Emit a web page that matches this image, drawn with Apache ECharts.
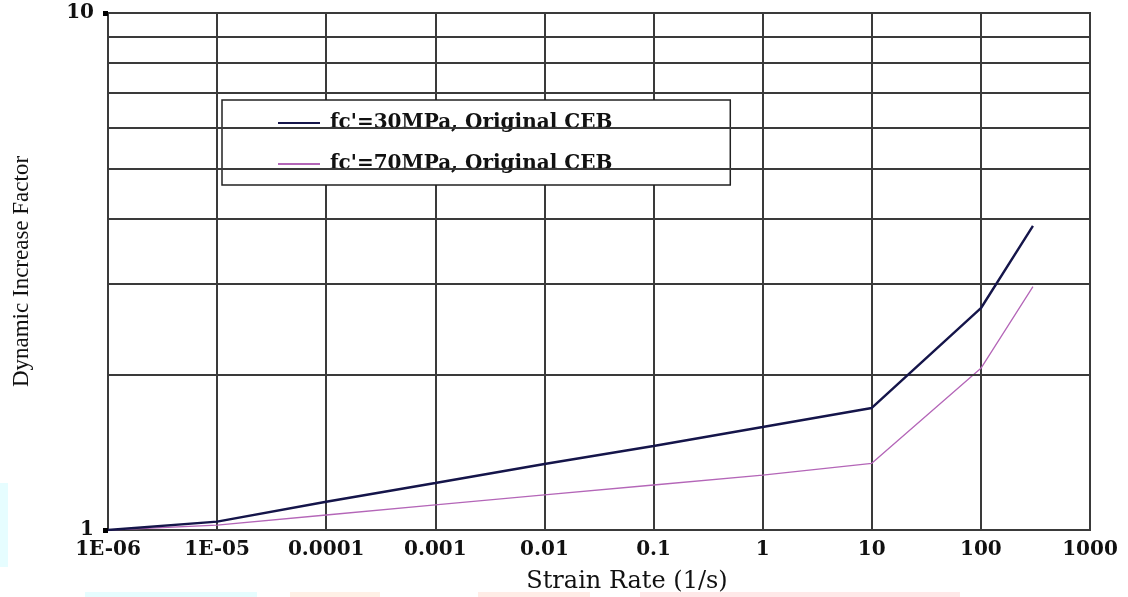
<!DOCTYPE html>
<html><head><meta charset="utf-8">
<script src="https://cdn.jsdelivr.net/npm/echarts@6/dist/echarts.min.js"></script>
<style>html,body{margin:0;padding:0;background:#fff}#c{width:1128px;height:597px}</style>
</head><body><div id="c"></div>
<script>
var strainRates = [1e-6, 1e-5, 1e-4, 1e-3, 1e-2, 1e-1, 1, 10, 100, 300];
var dif30 = [1.0, 1.038, 1.134, 1.233, 1.342, 1.454, 1.582, 1.722, 2.685, 3.873];
var dif70 = [1.0, 1.022, 1.069, 1.118, 1.169, 1.222, 1.277, 1.346, 2.055, 2.955];
var xTickLabels = ['1E-06','1E-05','0.0001','0.001','0.01','0.1','1','10','100','1000'];
var yGridValues = [2, 3, 4, 5, 6, 7, 8, 9];
var seriesNames = ["fc'=30MPa, Original CEB", "fc'=70MPa, Original CEB"];

function pairs(xs, ys){ return xs.map(function(x,i){ return [x, ys[i]]; }); }

var chart = echarts.init(document.getElementById('c'));
var gridColor = '#3a3a3a';
var c30 = '#15154a', c70 = '#b466b8';
chart.setOption({
  animation: false,
  backgroundColor: '#fff',
  grid: {left: 108, right: 38, top: 13, bottom: 67, show: true, borderColor: gridColor, borderWidth: 2},
  legend: {
    left: 222, top: 100, orient: 'vertical',
    borderColor: '#222', borderWidth: 1.5, backgroundColor: '#fff',
    padding: [13, 118, 11, 56], itemGap: 21, itemWidth: 42, itemHeight: 2, icon: 'rect',
    textStyle: {fontFamily: 'DejaVu Serif', fontWeight: 'bold', fontSize: 20, color: '#111', padding: [0, 0, 0, 5]},
    data: [
      {name: seriesNames[0], itemStyle: {color: c30}},
      {name: seriesNames[1], itemStyle: {color: c70}}
    ]
  },
  xAxis: {
    type: 'log', logBase: 10, min: 1e-6, max: 1000,
    axisLine: {show: false}, axisTick: {show: false},
    splitLine: {show: true, lineStyle: {color: gridColor, width: 2}},
    axisLabel: {
      margin: 10, fontFamily: 'DejaVu Serif', fontWeight: 'bold', fontSize: 20, color: '#111',
      formatter: function(v){ var i = Math.round(Math.log10(v)) + 6; return xTickLabels[i] || ''; }
    }
  },
  yAxis: {
    type: 'log', logBase: 10, min: 1, max: 10,
    name: 'Dynamic Increase Factor', nameLocation: 'middle', nameGap: 75,
    nameTextStyle: {fontFamily: 'Liberation Serif', fontSize: 23, color: '#111'},
    axisLine: {show: false},
    axisTick: {show: true, length: 5, lineStyle: {color: '#000', width: 5}},
    splitLine: {show: false},
    axisLabel: {margin: 14, fontFamily: 'DejaVu Serif', fontWeight: 'bold', fontSize: 20, color: '#111'}
  },
  graphic: [
    {type: 'text', x: 627, y: 582, style: {text: 'Strain Rate (1/s)', textAlign: 'center', textVerticalAlign: 'middle', font: '24px "DejaVu Serif"', fill: '#111'}},
    {type: 'rect', shape: {x: 0, y: 483, width: 8, height: 84}, style: {fill: '#e6fdff'}, z: -1},
    {type: 'rect', shape: {x: 85, y: 592, width: 172, height: 5}, style: {fill: '#e6fdff'}, z: -1},
    {type: 'rect', shape: {x: 290, y: 592, width: 90, height: 5}, style: {fill: '#fff0e6'}, z: -1},
    {type: 'rect', shape: {x: 478, y: 592, width: 112, height: 5}, style: {fill: '#ffece6'}, z: -1},
    {type: 'rect', shape: {x: 640, y: 592, width: 320, height: 5}, style: {fill: '#ffe8e8'}, z: -1}
  ],
  series: [
    {
      name: seriesNames[0], type: 'line', data: pairs(strainRates, dif30),
      symbol: 'none', lineStyle: {color: c30, width: 2.4}, itemStyle: {color: c30}, z: 5,
      markLine: {
        silent: true, symbol: 'none', label: {show: false},
        lineStyle: {color: gridColor, width: 2, type: 'solid'},
        data: yGridValues.map(function(v){ return {yAxis: v}; })
      }
    },
    {
      name: seriesNames[1], type: 'line', data: pairs(strainRates, dif70),
      symbol: 'none', lineStyle: {color: c70, width: 1.3}, itemStyle: {color: c70}, z: 4
    }
  ]
});
</script></body></html>
